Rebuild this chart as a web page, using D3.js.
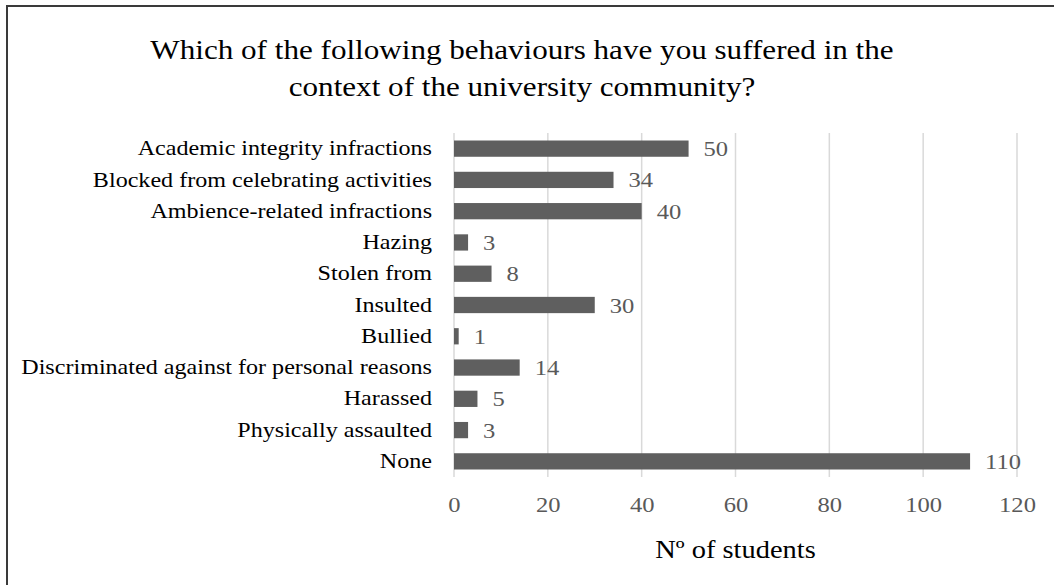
<!DOCTYPE html>
<html>
<head>
<meta charset="utf-8">
<script src="https://cdn.jsdelivr.net/npm/d3@7"></script>
<style>
  html, body { margin: 0; padding: 0; background: #fff; }
  svg { display: block; }
  text { font-family: "Liberation Serif", "Times New Roman", serif; }
</style>
</head>
<body>
<svg id="chart" width="1054" height="585"></svg>
<script>
// Survey answers: behaviours suffered within the university community
const categories = [
  "Academic integrity infractions",
  "Blocked from celebrating activities",
  "Ambience-related infractions",
  "Hazing",
  "Stolen from",
  "Insulted",
  "Bullied",
  "Discriminated against for personal reasons",
  "Harassed",
  "Physically assaulted",
  "None"
];
const students = [50, 34, 40, 3, 8, 30, 1, 14, 5, 3, 110];
const xTicks = [0, 20, 40, 60, 80, 100, 120];
const titleLines = [
  "Which of the following behaviours have you suffered in the",
  "context of the university community?"
];
const axisTitle = "Nº of students";

const svg = d3.select("#chart");
const W = 1054, H = 585;
const plot = { left: 454, right: 1017, top: 133, bottom: 477 };
const SX = 1.17;   // horizontal widening of the serif type
const serif = "Liberation Serif, Times New Roman, serif";
const place = (x, y) => `translate(${x},${y}) scale(${SX},1)`;

// Frame around the chart area (runs past the right and bottom edges)
svg.append("path")
  .attr("d", `M7,${H + 5} L7,6 L${W + 5},6`)
  .attr("fill", "none")
  .attr("stroke", "#3a3a3a")
  .attr("stroke-width", 2);

// Title
svg.append("g").selectAll("text")
  .data(titleLines)
  .join("text")
  .attr("transform", (d, i) => place(522, 59 + i * 37))
  .attr("text-anchor", "middle")
  .attr("font-size", 26.6)
  .attr("fill", "#000")
  .text(d => d);

const x = d3.scaleLinear().domain([0, 120]).range([plot.left, plot.right]);
const y = d3.scaleBand().domain(categories).range([plot.top, plot.bottom]).paddingInner(0.48).paddingOuter(0.24);

// Vertical gridlines
svg.append("g").selectAll("line")
  .data(xTicks)
  .join("line")
  .attr("x1", d => x(d)).attr("x2", d => x(d))
  .attr("y1", plot.top).attr("y2", plot.bottom)
  .attr("stroke", "#d9d9d9")
  .attr("stroke-width", 1.5);

// Bottom value axis (labels only)
const xAxis = d3.axisBottom(x).tickValues(xTicks).tickSize(0).tickPadding(0);
const gx = svg.append("g")
  .attr("transform", `translate(0,${plot.bottom + 20})`)
  .call(xAxis);
gx.select(".domain").remove();
gx.selectAll("text")
  .attr("dy", "0.71em")
  .attr("transform", `scale(${SX},1)`)
  .attr("font-family", serif)
  .attr("font-size", 21)
  .attr("fill", "#595959");

// Category axis (labels only)
const yAxis = d3.axisLeft(y).tickSize(0).tickPadding(0);
const gy = svg.append("g")
  .attr("transform", `translate(${plot.left - 22},0)`)
  .call(yAxis);
gy.select(".domain").remove();
gy.selectAll("text")
  .attr("transform", `scale(${SX},1)`)
  .attr("font-family", serif)
  .attr("font-size", 20.6)
  .attr("fill", "#000");

// Bars
const rows = categories.map((c, i) => ({ c, v: students[i] }));
svg.append("g").selectAll("rect")
  .data(rows)
  .join("rect")
  .attr("x", x(0))
  .attr("y", d => y(d.c))
  .attr("width", d => x(d.v) - x(0))
  .attr("height", y.bandwidth())
  .attr("fill", "#5f5f5f");

// Value labels
svg.append("g").selectAll("text")
  .data(rows)
  .join("text")
  .attr("transform", d => place(x(d.v) + 15, y(d.c) + y.bandwidth() / 2))
  .attr("dy", "0.36em")
  .attr("font-size", 21)
  .attr("fill", "#595959")
  .text(d => d.v);

// Axis title
svg.append("text")
  .attr("transform", place(x(60), 558))
  .attr("text-anchor", "middle")
  .attr("font-size", 24.3)
  .attr("fill", "#000")
  .text(axisTitle);
</script>
</body>
</html>
